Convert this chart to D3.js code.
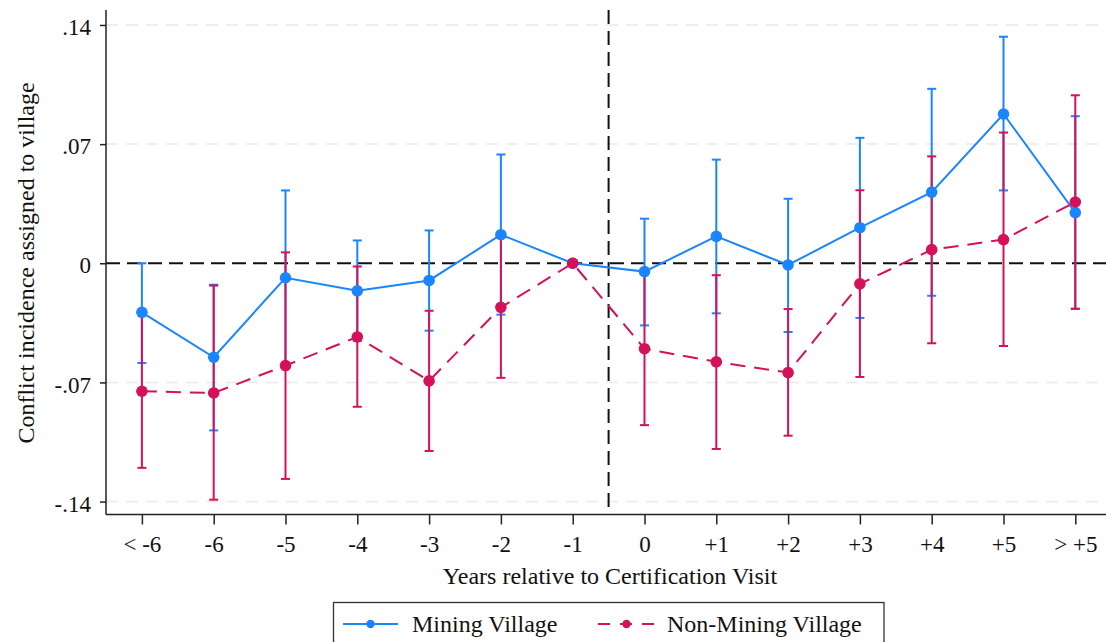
<!DOCTYPE html>
<html>
<head>
<meta charset="utf-8">
<script src="https://cdn.jsdelivr.net/npm/d3@7"></script>
<style>
  html, body { margin: 0; padding: 0; background: #fff; }
  svg { display: block; }
  text { font-family: "Liberation Serif", "Times New Roman", serif; fill: #111; }
</style>
</head>
<body>
<svg id="chart" width="1106" height="642"></svg>
<script>
// Event-time categories (years relative to certification visit)
const categories = ["< -6", "-6", "-5", "-4", "-3", "-2", "-1", "0", "+1", "+2", "+3", "+4", "+5", "> +5"];

// Mining villages: point estimates and confidence bounds
const miningEst = [-0.0288, -0.0552, -0.0085, -0.0162, -0.0101, 0.0168, 0, -0.0049, 0.0158, -0.0010, 0.0209, 0.0418, 0.0877, 0.0298];
const miningLo  = [-0.0586, -0.0982, -0.0598, -0.0457, -0.0396, -0.0302, null, -0.0365, -0.0294, -0.0404, -0.0321, -0.0191, 0.0428, -0.0268];
const miningHi  = [0.0000, -0.0126, 0.0428, 0.0134, 0.0193, 0.0639, null, 0.0262, 0.0609, 0.0379, 0.0737, 0.1025, 0.1331, 0.0864];

// Non-mining villages: point estimates and confidence bounds
const nonMiningEst = [-0.0752, -0.0762, -0.0601, -0.0433, -0.0691, -0.0259, 0, -0.0502, -0.0579, -0.0642, -0.0121, 0.0080, 0.0139, 0.0360];
const nonMiningLo  = [-0.1202, -0.1389, -0.1267, -0.0843, -0.1103, -0.0673, null, -0.0951, -0.1091, -0.1013, -0.0668, -0.0470, -0.0486, -0.0267];
const nonMiningHi  = [-0.0297, -0.0131, 0.0064, -0.0019, -0.0279, 0.0153, null, -0.0047, -0.0070, -0.0269, 0.0429, 0.0628, 0.0768, 0.0987];

// Y axis ticks
const yTicks = [0.14, 0.07, 0, -0.07, -0.14];
const yTickLabels = [".14", ".07", "0", "-.07", "-.14"];

const seriesNames = ["Mining Village", "Non-Mining Village"];
const colors = { mining: "#1a85ff", nonMining: "#d41159" };

const svg = d3.select("#chart");
const W = 1106;

const x = d3.scalePoint().domain(categories).range([106, 1111.2]).padding(0.5);
const y = d3.scaleLinear().domain([-0.1476, 0.1488]).range([514.5, 10]);

const plotLeft = 106, plotBottom = 514.5, plotTop = 10;

// Light dashed gridlines
svg.append("g")
  .selectAll("line")
  .data(yTicks.filter(d => d !== 0))
  .join("line")
  .attr("x1", plotLeft).attr("x2", W)
  .attr("y1", d => y(d)).attr("y2", d => y(d))
  .attr("stroke", "#e9e9e9").attr("stroke-width", 1.5)
  .attr("stroke-dasharray", "12,8");

// Reference line at zero
svg.append("line")
  .attr("x1", plotLeft).attr("x2", W)
  .attr("y1", y(0)).attr("y2", y(0))
  .attr("stroke", "#111").attr("stroke-width", 2)
  .attr("stroke-dasharray", "14,7");

// Vertical marker between -1 and 0
const xCert = (x("-1") + x("0")) / 2;
svg.append("line")
  .attr("x1", xCert).attr("x2", xCert)
  .attr("y1", plotTop).attr("y2", plotBottom)
  .attr("stroke", "#111").attr("stroke-width", 2)
  .attr("stroke-dasharray", "14,7");

// Axes
const yAxis = d3.axisLeft(y).tickValues(yTicks).tickSize(6)
  .tickFormat((d, i) => yTickLabels[i]);
const gy = svg.append("g").attr("transform", `translate(${plotLeft},0)`).call(yAxis);
gy.select(".domain").attr("d", `M-0,${plotTop}V${plotBottom}`).attr("stroke", "#222").attr("stroke-width", 1.5);
gy.selectAll(".tick line").attr("stroke", "#222").attr("stroke-width", 1.5);
gy.selectAll(".tick text")
  .attr("font-size", 23).attr("x", -15).attr("dy", "0.42em")
  .style("font-family", "'Liberation Serif', serif").attr("fill", "#111");

const xAxis = d3.axisBottom(x).tickSize(10).tickPadding(11);
const gx = svg.append("g").attr("transform", `translate(0,${plotBottom})`).call(xAxis);
gx.select(".domain").attr("d", `M${plotLeft},0H${W}`).attr("stroke", "#222").attr("stroke-width", 1.5);
gx.selectAll(".tick line").attr("stroke", "#222").attr("stroke-width", 1.5);
gx.selectAll(".tick text")
  .attr("font-size", 23).attr("dy", "0.71em")
  .style("font-family", "'Liberation Serif', serif").attr("fill", "#111");

// Axis titles
svg.append("text")
  .attr("x", 610).attr("y", 584)
  .attr("text-anchor", "middle").attr("font-size", 24)
  .text("Years relative to Certification Visit");

svg.append("text")
  .attr("transform", "translate(34,263) rotate(-90)")
  .attr("text-anchor", "middle").attr("font-size", 24)
  .text("Conflict incidence assigned to village");

// Build per-series records
function records(est, lo, hi) {
  return categories.map((c, i) => ({ c, est: est[i], lo: lo[i], hi: hi[i] }));
}
const mining = records(miningEst, miningLo, miningHi);
const nonMining = records(nonMiningEst, nonMiningLo, nonMiningHi);

const capHalf = 4.5;
function drawCaps(data, color) {
  const g = svg.append("g").attr("stroke", color).attr("stroke-width", 2).attr("fill", "none");
  const withCi = data.filter(d => d.lo !== null);
  g.selectAll("line.bar").data(withCi).join("line").attr("class", "bar")
    .attr("x1", d => x(d.c)).attr("x2", d => x(d.c))
    .attr("y1", d => y(d.lo)).attr("y2", d => y(d.hi));
  g.selectAll("line.hi").data(withCi).join("line").attr("class", "hi")
    .attr("x1", d => x(d.c) - capHalf).attr("x2", d => x(d.c) + capHalf)
    .attr("y1", d => y(d.hi)).attr("y2", d => y(d.hi));
  g.selectAll("line.lo").data(withCi).join("line").attr("class", "lo")
    .attr("x1", d => x(d.c) - capHalf).attr("x2", d => x(d.c) + capHalf)
    .attr("y1", d => y(d.lo)).attr("y2", d => y(d.lo));
}

function drawConnected(data, color, dash) {
  const line = d3.line().x(d => x(d.c)).y(d => y(d.est));
  svg.append("path").datum(data)
    .attr("d", line).attr("fill", "none")
    .attr("stroke", color).attr("stroke-width", 2)
    .attr("stroke-dasharray", dash);
  svg.append("g").selectAll("circle").data(data).join("circle")
    .attr("cx", d => x(d.c)).attr("cy", d => y(d.est)).attr("r", 5.8)
    .attr("fill", color);
}

drawCaps(mining, colors.mining);
drawCaps(nonMining, colors.nonMining);
drawConnected(mining, colors.mining, null);
drawConnected(nonMining, colors.nonMining, "15,9");

// Legend
const legend = svg.append("g");
legend.append("rect")
  .attr("x", 333.5).attr("y", 602.5).attr("width", 550.5).attr("height", 60)
  .attr("fill", "#fff").attr("stroke", "#333").attr("stroke-width", 1.3);

const legendItems = [
  { name: seriesNames[0], color: colors.mining, dash: null, x0: 343, x1: 398, tx: 412 },
  { name: seriesNames[1], color: colors.nonMining, dash: "12,10", x0: 598, x1: 655, tx: 667 }
];
const ly = 624;
legendItems.forEach(it => {
  legend.append("line")
    .attr("x1", it.x0).attr("x2", it.x1).attr("y1", ly).attr("y2", ly)
    .attr("stroke", it.color).attr("stroke-width", 2)
    .attr("stroke-dasharray", it.dash);
  legend.append("circle")
    .attr("cx", (it.x0 + it.x1) / 2).attr("cy", ly).attr("r", 4.2)
    .attr("fill", it.color);
  legend.append("text")
    .attr("x", it.tx).attr("y", ly + 8).attr("font-size", 24)
    .text(it.name);
});
</script>
</body>
</html>
